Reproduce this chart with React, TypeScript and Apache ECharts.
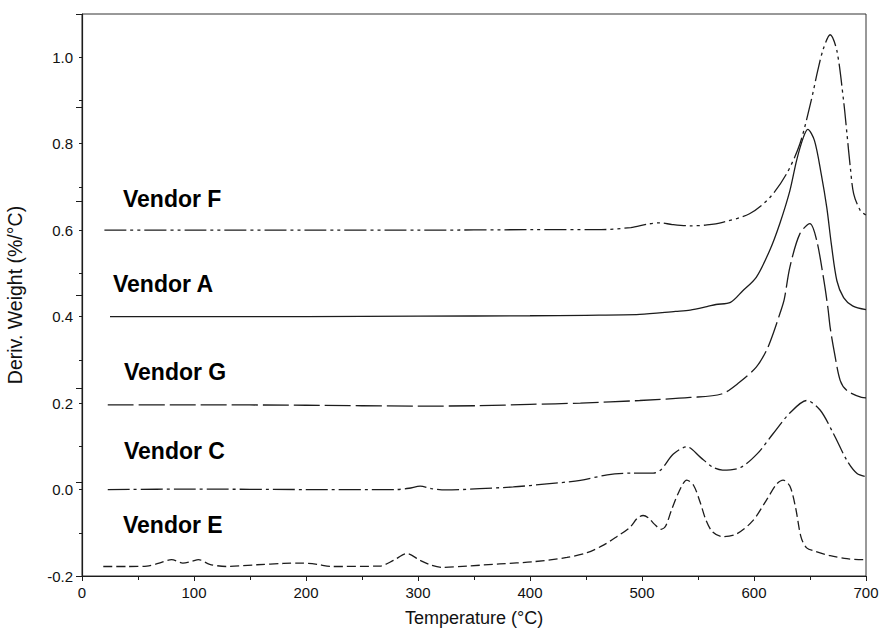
import React, { useEffect, useRef } from "react";
import * as echarts from "echarts";

// Temperature (°C) / derivative weight (%/°C) pairs for each vendor's DTG trace
const vendorF: [number, number][] = [
  [20, 0.6], [100, 0.6], [200, 0.6], [300, 0.6], [400, 0.601], [460, 0.601],
  [490, 0.606], [505, 0.614], [516, 0.617], [527, 0.613], [543, 0.61], [558, 0.612],
  [572, 0.618], [596, 0.638], [614, 0.675], [629, 0.73], [641, 0.8], [651, 0.899],
  [657, 0.97], [662, 1.02], [668, 1.052], [674, 1.015], [680, 0.899], [683, 0.823],
  [686, 0.745], [689, 0.684], [695, 0.645], [700, 0.635],
];

const vendorA: [number, number][] = [
  [25, 0.4], [100, 0.4], [200, 0.4], [300, 0.401], [400, 0.402], [450, 0.403],
  [498, 0.405], [530, 0.412], [543, 0.415], [558, 0.423], [566, 0.428], [579, 0.433],
  [590, 0.46], [602, 0.491], [614, 0.553], [623, 0.615], [632, 0.691], [638, 0.761],
  [644, 0.814], [648, 0.833], [654, 0.807], [660, 0.73], [665, 0.652], [669, 0.569],
  [674, 0.483], [680, 0.444], [688, 0.425], [700, 0.416],
];

const vendorG: [number, number][] = [
  [23, 0.196], [100, 0.196], [200, 0.195], [300, 0.193], [355, 0.194], [400, 0.197],
  [445, 0.2], [498, 0.206], [543, 0.213], [571, 0.221], [587, 0.248], [602, 0.283],
  [611, 0.321], [617, 0.36], [623, 0.406], [627, 0.44], [632, 0.514], [641, 0.592],
  [650, 0.615], [656, 0.576], [662, 0.49], [666, 0.42], [668, 0.375], [672, 0.314],
  [677, 0.252], [683, 0.229], [696, 0.213], [700, 0.212],
];

const vendorC: [number, number][] = [
  [23, 0.0], [100, 0.001], [200, 0.0], [280, 0.0], [292, 0.003], [302, 0.008],
  [312, 0.002], [325, -0.001], [355, 0.002], [385, 0.006], [415, 0.013], [445, 0.021],
  [469, 0.034], [492, 0.038], [510, 0.038], [517, 0.046], [528, 0.082], [540, 0.099],
  [552, 0.075], [563, 0.052], [572, 0.045], [588, 0.051], [603, 0.083], [617, 0.129],
  [632, 0.177], [647, 0.206], [659, 0.184], [671, 0.129], [683, 0.067], [692, 0.037],
  [700, 0.03],
];

const vendorE: [number, number][] = [
  [19, -0.178], [40, -0.178], [58, -0.177], [68, -0.171], [80, -0.162], [90, -0.17],
  [98, -0.166], [104, -0.162], [114, -0.173], [129, -0.178], [156, -0.174], [180, -0.171],
  [195, -0.17], [210, -0.173], [222, -0.178], [266, -0.177], [278, -0.164], [290, -0.148],
  [302, -0.164], [312, -0.175], [322, -0.18], [344, -0.177], [373, -0.172], [403, -0.167],
  [433, -0.157], [451, -0.146], [466, -0.128], [478, -0.108], [489, -0.088], [496, -0.066],
  [501, -0.06], [506, -0.066], [511, -0.08], [517, -0.092], [521, -0.085], [526, -0.05],
  [533, -0.005], [540, 0.022], [546, 0.01], [552, -0.03], [557, -0.07], [563, -0.098],
  [572, -0.109], [585, -0.102], [599, -0.072], [611, -0.025], [620, 0.012], [626, 0.022],
  [632, 0.008], [637, -0.04], [642, -0.11], [647, -0.135], [655, -0.143], [668, -0.153],
  [683, -0.16], [697, -0.162], [700, -0.162],
];

const vendorNames = ["Vendor F", "Vendor A", "Vendor G", "Vendor C", "Vendor E"];
const xTicks = [0, 100, 200, 300, 400, 500, 600, 700];

const FONT = '"Liberation Sans", Arial, Helvetica, sans-serif';
const INK = "#1c1c1c";

export default function App() {
  const ref = useRef<HTMLDivElement>(null);

  useEffect(() => {
    if (!ref.current) return;
    const chart = echarts.init(ref.current, undefined, { renderer: "svg" });

    const traces = [vendorF, vendorA, vendorG, vendorC, vendorE];
    const dashes: (number[] | "solid")[] = [
      [22, 4, 3, 4, 3, 4],
      "solid",
      [26, 5],
      [22, 4, 3, 4],
      [9, 4],
    ];
    // label anchor: left edge and vertical centre, in pixels
    const labelPos: [number, number][] = [
      [123, 201],
      [113, 286],
      [124, 374],
      [124, 453],
      [123, 527],
    ];

    chart.setOption({
      animation: false,
      backgroundColor: "#ffffff",
      grid: {
        left: 82,
        right: 14,
        top: 14,
        bottom: 52,
        outerBoundsMode: "none",
        containLabel: false,
        show: true,
        borderColor: "#333",
        borderWidth: 1,
        backgroundColor: "transparent",
      },
      xAxis: {
        type: "value",
        min: xTicks[0],
        max: xTicks[xTicks.length - 1],
        interval: 100,
        name: "Temperature (°C)",
        nameLocation: "middle",
        nameGap: 33,
        nameTextStyle: { fontFamily: FONT, fontSize: 18, color: "#111" },
        axisLine: { show: true, onZero: false, lineStyle: { color: INK, width: 1.2 } },
        axisTick: { show: true, length: 5, lineStyle: { color: INK } },
        minorTick: { show: true, splitNumber: 2, length: 4, lineStyle: { color: INK } },
        splitLine: { show: false },
        axisLabel: { fontFamily: FONT, fontSize: 15, color: "#111", margin: 9 },
      },
      yAxis: [
        {
          type: "value",
          min: -0.2,
          max: 1.1,
          interval: 0.1,
          position: "left",
          name: "Deriv. Weight (%/°C)",
          nameLocation: "middle",
          nameGap: 57,
          nameTextStyle: { fontFamily: FONT, fontSize: 19.5, color: "#111" },
          axisLine: { show: true, onZero: false, lineStyle: { color: INK, width: 1.2 } },
          axisTick: { show: true, length: 3, lineStyle: { color: INK } },
          splitLine: { show: false },
          axisLabel: {
            fontFamily: FONT,
            fontSize: 15,
            color: "#111",
            margin: 9,
            formatter: (v: number) => {
              const k = Math.round(v * 10);
              return k % 2 === 0 && k <= 10 ? v.toFixed(1) : "";
            },
          },
        },
        {
          // major ticks every 0.2
          type: "value",
          min: -0.2,
          max: 1.0,
          interval: 0.2,
          position: "left",
          axisLine: { show: false, onZero: false },
          axisTick: { show: true, length: 6, lineStyle: { color: INK } },
          axisLabel: { show: false },
          splitLine: { show: false },
        },
      ],
      graphic: vendorNames.map((name, i) => ({
        type: "text",
        left: labelPos[i][0],
        top: labelPos[i][1] - 13.5,
        style: {
          text: name,
          fontFamily: FONT,
          fontWeight: "bold",
          fontSize: 23,
          fill: "#000",
        },
      })),
      series: traces.map((data, i) => ({
        name: vendorNames[i],
        type: "line",
        xAxisIndex: 0,
        yAxisIndex: 0,
        data,
        smooth: 0.3,
        symbol: "none",
        lineStyle: { color: INK, width: 1.3, type: dashes[i] },
      })),
    });

    return () => chart.dispose();
  }, []);

  return (
    <div
      ref={ref}
      style={{ position: "absolute", left: 0, top: 0, width: 880, height: 628 }}
    />
  );
}
